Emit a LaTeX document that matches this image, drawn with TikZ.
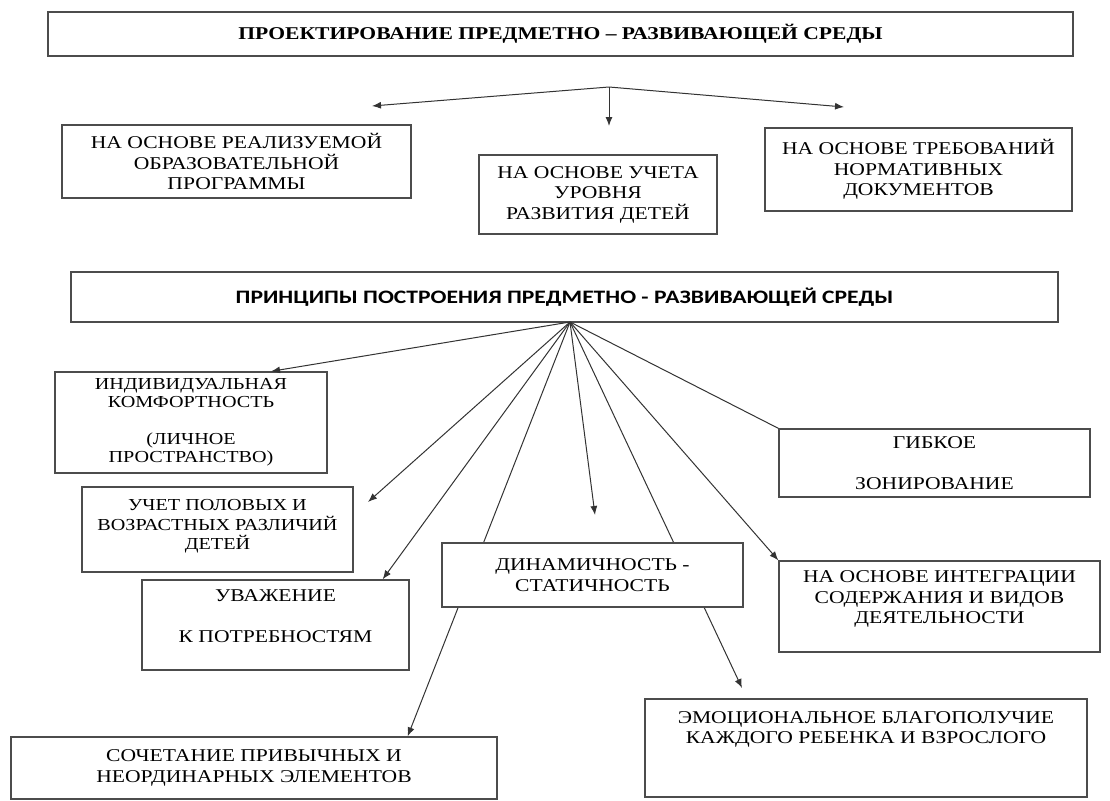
\documentclass[tikz,border=0pt]{standalone}
\usepackage{fontspec}
\setmainfont{Liberation Serif}[FakeStretch=1.2]
\newfontfamily\calibfont{Carlito}[FakeStretch=1.24]
\usetikzlibrary{arrows.meta}

\begin{document}
\begin{tikzpicture}[
  x=1pt,y=-1pt,
  blk/.style={draw=black!70,line width=1.3pt,fill=white,align=center,inner sep=0pt,
    font=\fontsize{18}{20.5}\selectfont},
  sblk/.style={blk,font=\fontsize{16.8}{18.3}\selectfont},
  hd/.style={blk,font=\bfseries\fontsize{18}{20}\selectfont},
  hdsans/.style={blk,font=\calibfont\bfseries\fontsize{19}{20}\selectfont},
  ar/.style={-{Latex[length=9pt,width=7pt]},line width=1pt,draw=black!80},
  ln/.style={line width=1pt,draw=black!80}
]
\useasboundingbox (0,0) rectangle (1110,800);
% projecting
\node[hd,minimum width=1025pt,minimum height=44pt] (proj) at (560.5,34) {ПРОЕКТИРОВАНИЕ ПРЕДМЕТНО – РАЗВИВАЮЩЕЙ СРЕДЫ};
\node[blk,minimum width=349pt,minimum height=73pt] (prog) at (236.5,161.5) {НА ОСНОВЕ РЕАЛИЗУЕМОЙ\\ОБРАЗОВАТЕЛЬНОЙ\\ПРОГРАММЫ};
\node[blk,minimum width=238pt,minimum height=79pt] (uroven) at (598,194.5) {НА ОСНОВЕ УЧЕТА\\УРОВНЯ\\РАЗВИТИЯ ДЕТЕЙ};
\node[blk,minimum width=307pt,minimum height=83pt] (norm) at (918.5,169.5) {НА ОСНОВЕ ТРЕБОВАНИЙ\\НОРМАТИВНЫХ\\ДОКУМЕНТОВ};
\coordinate (fk1) at (609,87);
\coordinate (a1) at (372,106);
\coordinate (a2) at (609,126);
\coordinate (a3) at (844,107);
\draw[ar] (fk1) -- (a1);
\draw[ar] (fk1) -- (a2);
\draw[ar] (fk1) -- (a3);
% principles
\node[hdsans,minimum width=987pt,minimum height=50pt] (princ) at (564.5,297) {ПРИНЦИПЫ ПОСТРОЕНИЯ ПРЕДМЕТНО - РАЗВИВАЮЩЕЙ СРЕДЫ};
\coordinate (fk2) at (570,322);
\node[sblk,minimum width=272pt,minimum height=101pt] (komf) at (191,422.5) {ИНДИВИДУАЛЬНАЯ\\КОМФОРТНОСТЬ\\ \\(ЛИЧНОЕ\\ПРОСТРАНСТВО)};
\node[blk,minimum width=311pt,minimum height=68pt] (zon) at (934.5,463) {ГИБКОЕ\\ \\ЗОНИРОВАНИЕ};
\node[sblk,minimum width=271pt,minimum height=85pt,font=\fontsize{16.8}{19.5}\selectfont] (pol) at (217.5,529.5) {УЧЕТ ПОЛОВЫХ И\\ВОЗРАСТНЫХ РАЗЛИЧИЙ\\ДЕТЕЙ\\[-16pt]\strut};
\node[blk,minimum width=267pt,minimum height=90pt] (uvazh) at (275.5,625) {УВАЖЕНИЕ\\ \\К ПОТРЕБНОСТЯМ\\[-8pt]\strut};
\node[blk,minimum width=321pt,minimum height=91pt] (integr) at (939.5,606.5) {НА ОСНОВЕ ИНТЕГРАЦИИ\\СОДЕРЖАНИЯ И ВИДОВ\\ДЕЯТЕЛЬНОСТИ\\[-8pt]\strut};
\node[blk,minimum width=486pt,minimum height=62pt] (soch) at (254,768) {СОЧЕТАНИЕ ПРИВЫЧНЫХ И\\НЕОРДИНАРНЫХ ЭЛЕМЕНТОВ};
\node[blk,minimum width=442pt,minimum height=98pt] (emoc) at (866,748) {ЭМОЦИОНАЛЬНОЕ БЛАГОПОЛУЧИЕ\\КАЖДОГО РЕБЕНКА И ВЗРОСЛОГО\\ \\ };
\coordinate (e1) at (368,502);
\coordinate (e2) at (595,515);
\coordinate (e3) at (742,688);
\draw[ar] (fk2) -- ([xshift=80pt]komf.north);
\draw[ar] (fk2) -- (e1);
\draw[ar] (fk2) -- ([xshift=-27pt]uvazh.north east);
\draw[ar] (fk2) -- ([xshift=-90pt]soch.north east);
\draw[ar] (fk2) -- (e2);
\draw[ar] (fk2) -- (e3);
\draw[ar] (fk2) -- (integr.north west);
\draw[ln] (fk2) -- (zon.north west);
\node[blk,minimum width=301pt,minimum height=64pt] (dinam) at (592.5,575) {ДИНАМИЧНОСТЬ -\\СТАТИЧНОСТЬ};
\end{tikzpicture}
\end{document}
